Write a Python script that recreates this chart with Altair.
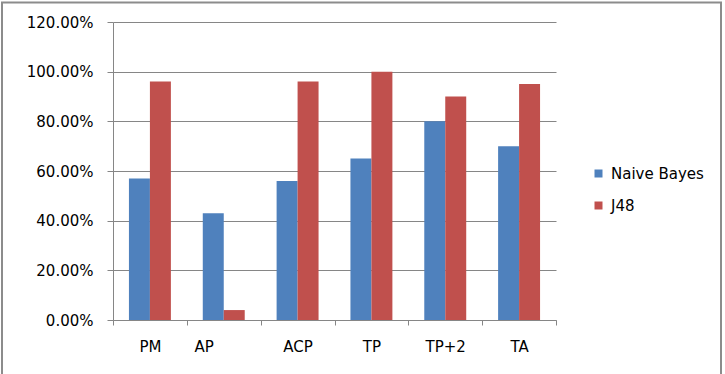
import altair as alt
import pandas as pd

# Classification accuracy per feature set
categories = ["PM", "AP", "ACP", "TP", "TP+2", "TA"]
naive_bayes = [0.57, 0.43, 0.56, 0.65, 0.80, 0.70]
j48 = [0.96, 0.04, 0.96, 1.00, 0.90, 0.95]
series = ["Naive Bayes", "J48"]
colors = ["#4F81BD", "#C0504D"]

rows = []
for cat, nb, jv in zip(categories, naive_bayes, j48):
    rows.append({"category": cat, "classifier": "Naive Bayes", "accuracy": nb})
    rows.append({"category": cat, "classifier": "J48", "accuracy": jv})
df = pd.DataFrame(rows)

FONT = "DejaVu Sans"
GRID = "#868686"

bars = alt.Chart(df).mark_bar().encode(
    x=alt.X(
        "category:N",
        sort=categories,
        title=None,
        scale=alt.Scale(paddingInner=0, paddingOuter=0),
        axis=alt.Axis(
            grid=False,
            labelAngle=0,
            tickBand="extent",
            tickSize=5,
            tickColor=GRID,
            domainColor=GRID,
            labelPadding=14,
            labelFont=FONT,
            labelFontSize=15,
            labelColor="#000000",
            # the "AP" label sits left of its group
            labelOffset={"condition": {"test": "datum.value == 'AP'", "value": -20}, "value": 0},
        ),
    ),
    xOffset=alt.XOffset(
        "classifier:N",
        sort=series,
        scale=alt.Scale(paddingOuter=0.76, paddingInner=0),
    ),
    y=alt.Y(
        "accuracy:Q",
        title=None,
        scale=alt.Scale(domain=[0, 1.2], nice=False),
        axis=alt.Axis(
            values=[0, 0.2, 0.4, 0.6, 0.8, 1.0, 1.2],
            format=".2%",
            tickSize=6,
            tickColor=GRID,
            domainColor=GRID,
            gridColor=GRID,
            grid=True,
            labelPadding=14,
            labelFont=FONT,
            labelFontSize=15,
            labelColor="#000000",
        ),
    ),
    color=alt.Color(
        "classifier:N",
        sort=series,
        scale=alt.Scale(domain=series, range=colors),
        legend=alt.Legend(
            title=None,
            orient="none",
            legendX=478,
            legendY=144,
            symbolType="square",
            symbolSize=64,
            symbolStrokeWidth=0,
            labelFont=FONT,
            labelFontSize=15,
            labelColor="#000000",
            labelOffset=5,
            rowPadding=16,
            padding=0,
        ),
    ),
)

# outer chart border: left, top and right edges
edge = alt.Chart(pd.DataFrame({"k": [0]})).mark_rule(color="#8c8c8c", strokeWidth=2)
left_edge = edge.encode(x=alt.value(-111), y=alt.value(-19.5), y2=alt.value(360))
top_edge = edge.encode(x=alt.value(-112), x2=alt.value(609), y=alt.value(-19.5))
right_edge = edge.encode(x=alt.value(608), y=alt.value(-19.5), y2=alt.value(360))

chart = alt.layer(left_edge, top_edge, right_edge, bars).properties(
    width=443,
    height=298,
    autosize=alt.AutoSizeParams(type="none"),
    padding={"left": 113, "top": 22, "right": 169, "bottom": 54},
    view=alt.ViewBackground(stroke="transparent", strokeWidth=0),
).configure(background="#ffffff")

chart.save("out.html", embed_options={"renderer": "svg", "actions": False})
